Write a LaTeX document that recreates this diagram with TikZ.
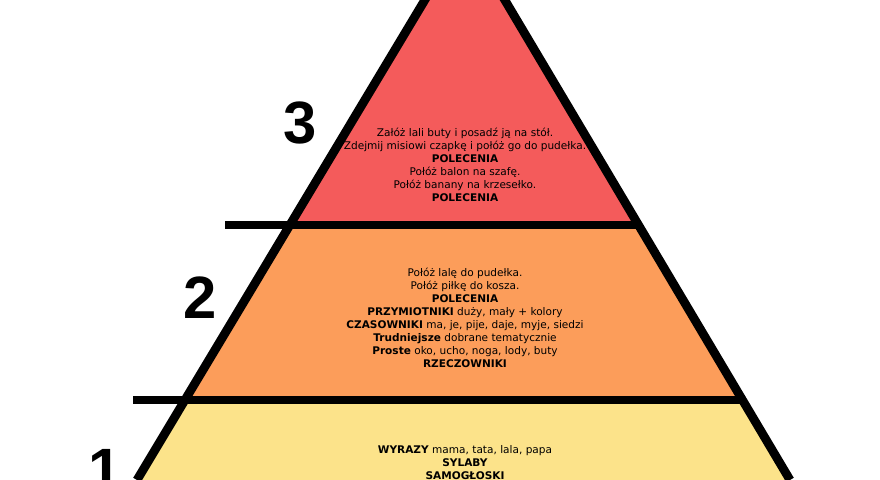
\documentclass[tikz,border=0pt]{standalone}
\usepackage{fontspec}
\setmainfont{DejaVu Sans}
\newfontfamily\numfont{Liberation Sans}
\definecolor{levelred}{HTML}{F45B5B}
\definecolor{levelorange}{HTML}{FC9D5A}
\definecolor{levelyellow}{HTML}{FCE38A}
\begin{document}
\begin{tikzpicture}[x=0.02cm,y=-0.02cm,line join=bevel,
  band/.style={line width=5pt,draw=black},
  body/.style={font=\fontsize{6}{7.4}\selectfont,align=center,text=black},
  num/.style={font=\numfont\bfseries\fontsize{34}{34}\selectfont}]
%%
  \useasboundingbox (0,0) rectangle (880,480);
  \clip (0,0) rectangle (880,480);
  \coordinate (apex) at (465,-67);
  \coordinate (bl) at (137,480);
  \coordinate (br) at (790,480);
  \fill[levelyellow] (183,400) -- (742,400) -- (br) -- (bl) -- cycle;
  \fill[levelorange] (288,225) -- (639,225) -- (742,400) -- (183,400) -- cycle;
  \fill[levelred] (apex) -- (639,225) -- (288,225) -- cycle;
  \draw[band] (bl) -- (apex) -- (br);
  \draw[band] (225,225) -- (639,225);
  \draw[band] (133,400) -- (742,400);

  \node (level_3) at (300,123) [num] {3};
  \node (level_2) at (200,298) [num] {2};
  \node (level_1) at (105,470) [num] {1};

  \node (text_3) at (465,165) [body] {Załóż lali buty i posadź ją na stół.\\
    Zdejmij misiowi czapkę i połóż go do pudełka.\\ \textbf{POLECENIA}\\
    Połóż balon na szafę.\\ Połóż banany na krzesełko.\\ \textbf{POLECENIA}};
  \node (text_2) at (465,318) [body] {Połóż lalę do pudełka.\\ Połóż piłkę do kosza.\\
    \textbf{POLECENIA}\\ \textbf{PRZYMIOTNIKI} duży, mały + kolory\\
    \textbf{CZASOWNIKI} ma, je, pije, daje, myje, siedzi\\
    \textbf{Trudniejsze} dobrane tematycznie\\
    \textbf{Proste} oko, ucho, noga, lody, buty\\ \textbf{RZECZOWNIKI}};
  \node (text_1) at (465,463) [body] {\textbf{WYRAZY} mama, tata, lala, papa\\
    \textbf{SYLABY}\\ \textbf{SAMOGŁOSKI}};
%
\end{tikzpicture}
\end{document}
